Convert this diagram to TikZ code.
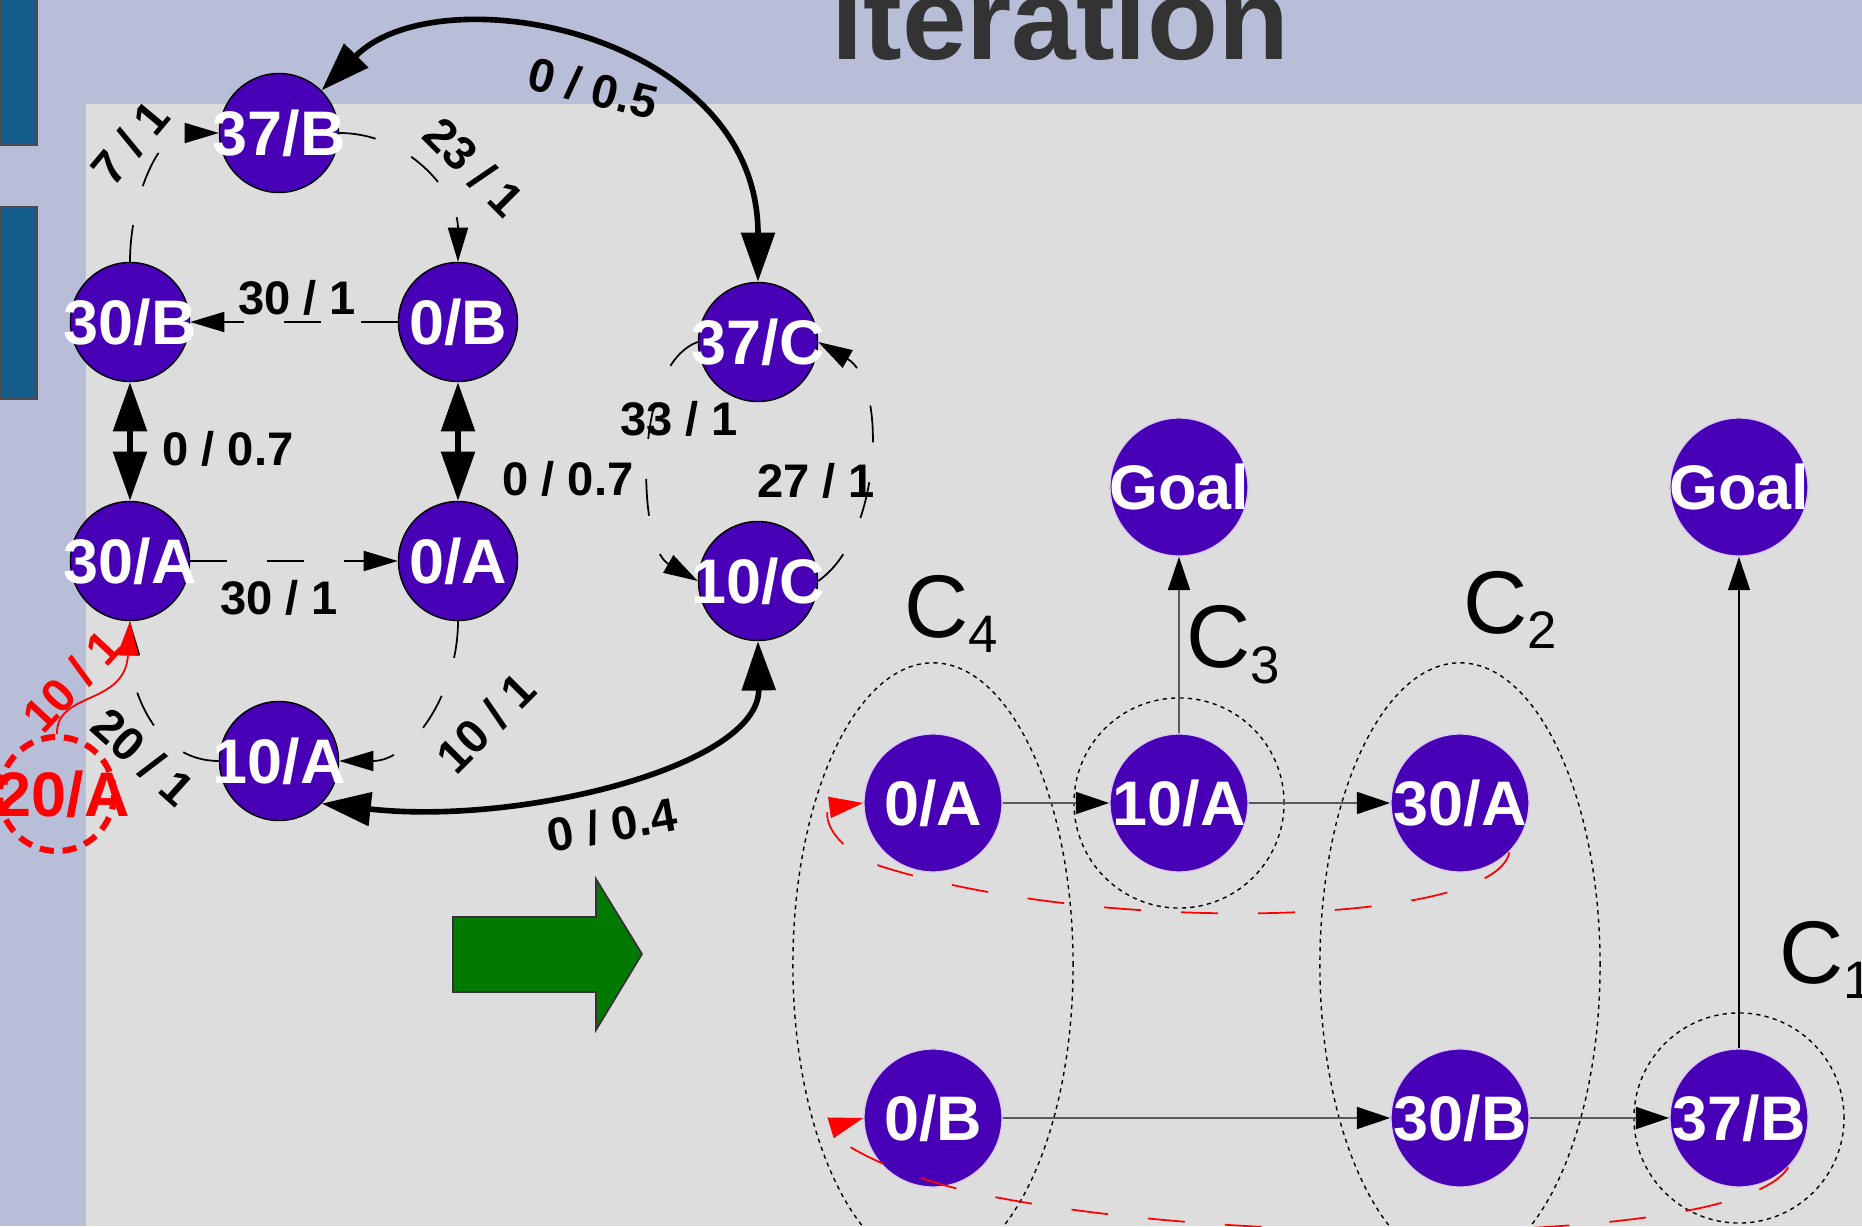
\documentclass[tikz,border=0pt]{standalone}
\usepackage{fontspec}
\setmainfont{Liberation Sans}
\usetikzlibrary{arrows.meta,shapes.geometric}
\definecolor{slideblue}{HTML}{B8BDD8}
\definecolor{panelgray}{HTML}{DDDDDD}
\definecolor{barblue}{HTML}{155E8C}
\definecolor{statepurple}{HTML}{4700B5}
\definecolor{titlegray}{HTML}{333333}
\definecolor{arrowgreen}{HTML}{007A00}

\begin{document}
\begin{tikzpicture}[x=0.01cm,y=0.01cm,
  every node/.style={inner sep=0pt},
  state/.style={circle,fill=statepurple,draw=black,line width=0.4pt,minimum size=1.19cm,text=white,font=\bfseries\fontsize{17.9pt}{20pt}\selectfont},
  rstate/.style={state,draw=white!80!statepurple,minimum size=1.38cm},
  lost/.style={circle,draw=red,line width=1.7pt,dash pattern=on 4pt off 2.5pt,minimum size=1.14cm,text=red,font=\bfseries\fontsize{17.9pt}{20pt}\selectfont},
  lbl/.style={font=\bfseries\fontsize{13.4pt}{15pt}\selectfont},
  clabel/.style={anchor=base west,font=\fontsize{25.3pt}{30pt}\selectfont},
  cost/.style={draw=black,line width=0.5pt,dash pattern=on 10.5pt off 11.4pt,-{Triangle[length=9.7pt,width=5.7pt]}},
  heavy/.style={draw=black,line width=1.6pt,{Triangle[length=14pt,width=9.4pt]}-{Triangle[length=14pt,width=9.4pt]}},
  redcost/.style={draw=red,line width=0.5pt,-{Triangle[length=9.7pt,width=6pt]}},
  flow/.style={draw=black!65,line width=0.7pt,-{Triangle[length=9.5pt,width=6.2pt,color=black]}},
  group/.style={draw=black,line width=0.4pt,dash pattern=on 1.2pt off 1.2pt}
]
\useasboundingbox (0,0) rectangle (1862,1226);
\clip (0,0) rectangle (1862,1226);
% slide background
\fill[slideblue] (0,0) rectangle (1862,1226);
\fill[panelgray] (86,0) rectangle (1862,1122);
\draw[fill=barblue,draw=black!70] (0,1081) rectangle (37,1230);
\draw[fill=barblue,draw=black!70] (0,827) rectangle (37,1019);
\node[font=\bfseries\fontsize{33pt}{36pt}\selectfont,text=titlegray,anchor=base] (title) at (1060,1166) {iteration};

% left graph
\node[state] (B37) at (279,1093) {\makebox[0pt]{37/B}};
\node[state] (B30) at (130,904) {\makebox[0pt]{30/B}};
\node[state] (B0) at (458,904) {\makebox[0pt]{0/B}};
\node[state] (C37) at (758,884) {\makebox[0pt]{37/C}};
\node[state] (A30) at (130,665) {\makebox[0pt]{30/A}};
\node[state] (A0) at (458,665) {\makebox[0pt]{0/A}};
\node[state] (C10) at (758,645) {\makebox[0pt]{10/C}};
\node[state] (A10) at (279,465) {\makebox[0pt]{10/A}};
\node[lost] (A20) at (57,432) {\makebox[0pt]{\hspace*{0.12cm}20/A}};

\draw[heavy] (B37.45) .. controls (439,1254) and (758,1194) .. (C37.north);
\draw[cost] (B30.north) to[out=90,in=180] (B37.west);
\draw[cost] (B37.east) to[out=0,in=90] (B0.north);
\draw[cost] (B0.west) -- (B30.east);
\draw[heavy] (B30.south) -- (A30.north);
\draw[heavy] (B0.south) -- (A0.north);
\draw[cost] (A30.east) -- (A0.west);
\draw[cost] (A0.south) to[out=-90,in=0] (A10.east);
\draw[cost] (A10.west) to[out=180,in=-90] (A30.south);
\draw[cost] (C37.west) to[out=200,in=150,looseness=0.75] (C10.west);
\draw[cost] (C10.east) to[out=35,in=-30,looseness=0.85] (C37.east);
\draw[heavy] (A10.-45) .. controls (520,400) and (760,460) .. (C10.south);
\draw[redcost] (A20.north) .. controls (56,535) and (125,520) .. (A30.south);

\node[lbl,rotate=-14] (l05) at (593,1138) {0 / 0.5};
\node[lbl,rotate=50] (l71) at (130,1083) {7 / 1};
\node[lbl,rotate=-45] (l231) at (474,1059) {23 / 1};
\node[lbl] (l301b) at (297,928) {30 / 1};
\node[lbl] (l07a) at (228,777) {0 / 0.7};
\node[lbl] (l07b) at (568,747) {0 / 0.7};
\node[lbl] (l301a) at (279,628) {30 / 1};
\node[lbl] (l331) at (679,807) {33 / 1};
\node[lbl] (l271) at (816,745) {27 / 1};
\node[lbl,rotate=45] (l101) at (486,503) {10 / 1};
\node[lbl,rotate=-42] (l201) at (143,469) {20 / 1};
\node[lbl,rotate=47,text=red] (l101r) at (72,545) {10 / 1};
\node[lbl,rotate=10] (l04) at (612,401) {0 / 0.4};

% transformation arrow
\draw[fill=arrowgreen,draw=black!80,line width=0.5pt] (453,234) -- (596,234) -- (596,196) -- (642,272) -- (596,347) -- (596,309) -- (453,309) -- cycle;

% right graph
\node[group,ellipse,minimum width=2.8cm,minimum height=6.04cm] (c4) at (933,261) {};
\node[group,ellipse,minimum width=2.8cm,minimum height=6.04cm] (c2) at (1460,261) {};
\node[group,circle,minimum size=2.1cm] (c3) at (1179,423) {};
\node[group,circle,minimum size=2.1cm] (c1) at (1739,108) {};

\node[rstate] (G1) at (1179,739) {\makebox[0pt]{Goal}};
\node[rstate] (G2) at (1739,739) {\makebox[0pt]{Goal}};
\node[rstate] (RA0) at (933,423) {\makebox[0pt]{0/A}};
\node[rstate] (RA10) at (1179,423) {\makebox[0pt]{10/A}};
\node[rstate] (RA30) at (1460,423) {\makebox[0pt]{30/A}};
\node[rstate] (RB0) at (933,108) {\makebox[0pt]{0/B}};
\node[rstate] (RB30) at (1460,108) {\makebox[0pt]{30/B}};
\node[rstate] (RB37) at (1739,108) {\makebox[0pt]{37/B}};

\draw[flow] (RA0) -- (RA10);
\draw[flow] (RA10) -- (RA30);
\draw[flow] (RA10) -- (G1);
\draw[flow] (RB0) -- (RB30);
\draw[flow] (RB30) -- (RB37);
\draw[flow,draw=black,line width=0.5pt] (RB37) -- (G2);
\draw[redcost,dash pattern=on 10.5pt off 11.4pt] (RA30.-45) .. controls (1495,300) and (1100,290) .. (880,360) .. controls (820,385) and (825,418) .. (RA0.west);
\draw[redcost,dash pattern=on 10.5pt off 11.4pt] (RB37.-45) .. controls (1740,-20) and (1250,-20) .. (1000,28) .. controls (880,50) and (820,95) .. (RB0.west);

\node[clabel] (t4) at (904,589) {C\raisebox{-0.15cm}{\fontsize{15pt}{18pt}\selectfont 4}};
\node[clabel] (t3) at (1186,558) {C\raisebox{-0.15cm}{\fontsize{15pt}{18pt}\selectfont 3}};
\node[clabel] (t2) at (1463,593) {C\raisebox{-0.15cm}{\fontsize{15pt}{18pt}\selectfont 2}};
\node[clabel] (t1) at (1779,243) {C\raisebox{-0.15cm}{\fontsize{15pt}{18pt}\selectfont 1}};
\end{tikzpicture}
\end{document}
